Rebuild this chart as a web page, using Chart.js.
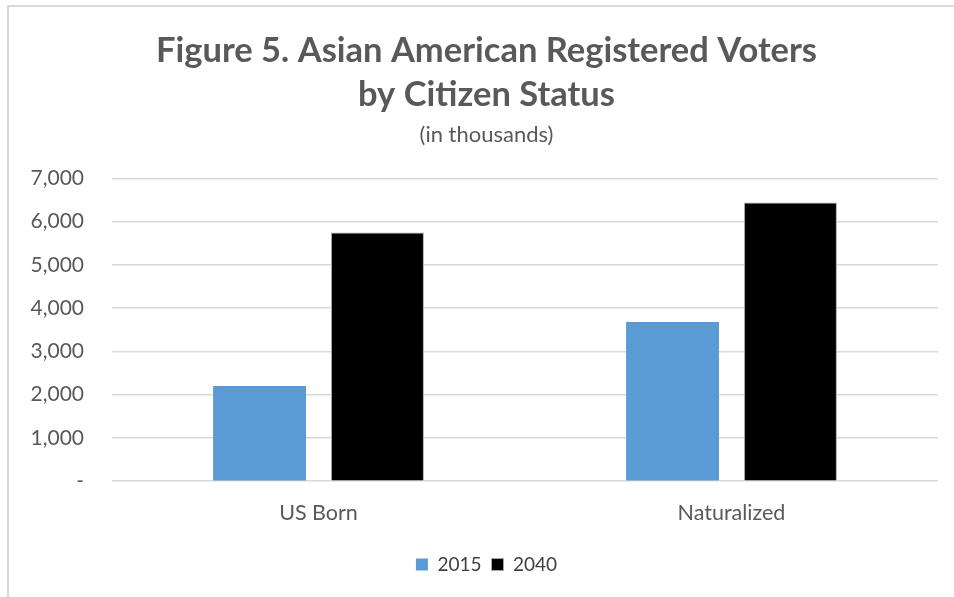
<!DOCTYPE html>
<html>
<head>
<meta charset="utf-8">
<script src="https://cdn.jsdelivr.net/npm/chart.js@4/dist/chart.umd.min.js"></script>
<style>
html,body{margin:0;padding:0;background:#fff;overflow:hidden;}
#frame{position:absolute;left:7px;top:5px;width:1000px;height:700px;border:2px solid #d9d9d9;box-sizing:border-box;}
#c{position:absolute;left:0;top:0;}
</style>
</head>
<body>
<div id="frame"></div>
<canvas id="c" width="954" height="597"></canvas>
<script>
const categories = ['US Born', 'Naturalized'];
const values2015 = [2200, 3680];
const values2040 = [5750, 6440];
const seriesNames = ['2015', '2040'];
const yTicks = [0, 1000, 2000, 3000, 4000, 5000, 6000, 7000];

const FONT = 'Lato, "Open Sans", sans-serif';
const GREY = '#595959';

// centre the title, subtitle and legend over the whole chart frame (not just the plot)
const centreBoxes = {
  id: 'centreBoxes',
  afterLayout(chart) {
    chart.boxes.forEach(b => {
      if (b.fullSize && (b.position === 'top' || b.position === 'bottom')) {
        b.left = 35;
      }
    });
  }
};

new Chart(document.getElementById('c'), {
  type: 'bar',
  data: {
    labels: categories,
    datasets: [
      {label: seriesNames[0], data: values2015, backgroundColor: '#5b9bd5', borderWidth: 0,
       categoryPercentage: 0.571, barPercentage: 0.788},
      {label: seriesNames[1], data: values2040, backgroundColor: '#000000', borderColor: '#a6a6a6', borderWidth: 1,
       categoryPercentage: 0.571, barPercentage: 0.788}
    ]
  },
  plugins: [centreBoxes],
  options: {
    responsive: false,
    animation: false,
    devicePixelRatio: 1,
    layout: {padding: {left: 0, right: 16, top: 0, bottom: 13}},
    plugins: {
      title: {
        display: true,
        text: ['Figure 5. Asian American Registered Voters', 'by Citizen Status'],
        color: GREY,
        font: {family: FONT, size: 34.5, weight: 'bold', lineHeight: 44 / 34.5},
        padding: {top: 28.5, bottom: 0}
      },
      subtitle: {
        display: true,
        text: '(in thousands)',
        color: GREY,
        font: {family: FONT, size: 22, lineHeight: 1.2},
        padding: {top: 5, bottom: 30.5}
      },
      legend: {
        display: true,
        position: 'bottom',
        labels: {
          color: '#404040',
          font: {family: FONT, size: 19},
          boxWidth: 12, boxHeight: 12, padding: 10
        }
      },
      tooltip: {enabled: false}
    },
    scales: {
      x: {
        grid: {display: false, drawTicks: false},
        border: {display: false},
        ticks: {color: GREY, font: {family: FONT, size: 21.5}, padding: 19}
      },
      y: {
        min: 0, max: 7000,
        afterFit: s => { s.width = 112; },
        afterBuildTicks: s => { s.ticks = yTicks.map(v => ({value: v})); },
        grid: {color: '#d9d9d9', lineWidth: 1.5, drawTicks: false},
        border: {display: false},
        ticks: {
          color: GREY, font: {family: FONT, size: 21}, padding: 28,
          callback: v => v === 0 ? '-' : v.toLocaleString('en-US')
        }
      }
    }
  }
});
</script>
</body>
</html>
